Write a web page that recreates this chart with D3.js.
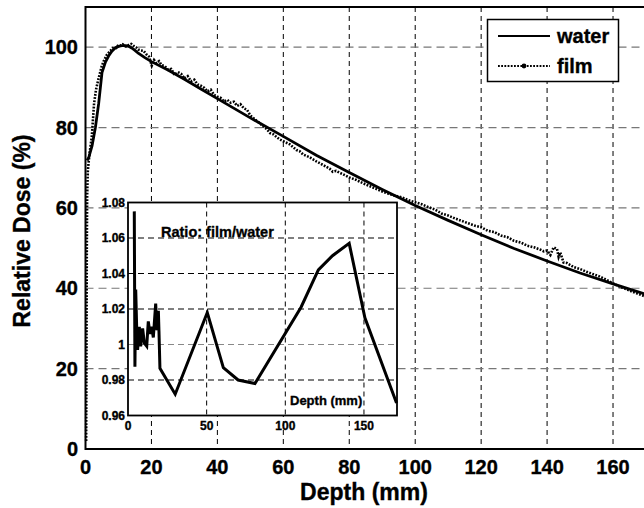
<!DOCTYPE html>
<html>
<head>
<meta charset="utf-8">
<script src="https://cdn.jsdelivr.net/npm/d3@7"></script>
<style>
  html, body { margin: 0; padding: 0; background: #fff; }
  svg { display: block; }
  text { font-family: "Liberation Sans", Arial, sans-serif; font-weight: bold; fill: #000; stroke: #000; stroke-width: 0.35px; }
</style>
</head>
<body>
<svg id="chart" width="644" height="508"></svg>
<script>
// ---------- DATA ----------
const waterDepth = [0.5, 1, 2, 3, 4, 5, 6, 7, 8, 9, 10, 11, 12, 13, 14, 15, 16, 18, 20, 25, 30, 35, 40, 50, 60, 70, 80, 90, 100, 110, 120, 130, 140, 150, 160, 170];
const waterDose  = [71.8, 72.6, 75.5, 80, 86, 93.7, 96.2, 97.8, 99, 99.8, 100.2, 100.4, 100.4, 100.3, 99.8, 99.2, 98.5, 97.4, 96.4, 94.3, 92.0, 89.6, 87.2, 82.4, 77.8, 73.1, 68.8, 64.6, 60.6, 56.9, 53.3, 49.9, 46.8, 43.8, 41.1, 38.5];

const filmDepth = [0.2, 0.3, 0.4, 0.5, 0.7, 0.9, 1.3, 1.9, 2.6, 3.2, 3.9, 4.9, 5.5, 6.4, 7.2, 7.9, 8.6, 9.3, 10, 10.6, 11.3, 12, 12.6, 13.2, 13.9, 14.6, 15.3, 16, 16.8, 17.6, 18.6, 19.3, 20.1, 20.8, 21.5, 22.3, 23, 24, 25, 26, 27, 28, 29, 30, 31, 32, 33, 34, 35, 36, 37, 38, 39, 40, 41, 42, 43, 44, 45, 46, 47, 48, 49, 50, 51, 52, 53, 54, 55, 56, 57, 58, 59, 60, 62, 64, 65, 66, 68, 70, 72, 74, 75, 76, 78, 80, 82, 84, 86, 88, 90, 92, 94, 96, 98, 100, 102, 104, 106, 108, 110, 112, 114, 116, 118, 120, 122, 124, 126, 128, 130, 132, 134, 136, 138, 139, 140, 141, 142, 143, 143.5, 144, 145, 146, 148, 150, 152, 154, 156, 158, 160, 162, 164, 166, 168, 170];
const filmDose  = [2, 25, 50, 63, 69, 71, 74, 77.7, 86, 89.5, 92, 95.2, 96.5, 98, 98.8, 99.4, 100, 99.8, 100.6, 100.4, 100.7, 100.3, 100.1, 100.6, 100.8, 100.3, 100.0, 99.4, 99.2, 99.1, 98.1, 97.6, 95.4, 96.8, 96.0, 96.5, 95.6, 95.3, 94.4, 94.6, 93.1, 93.8, 93.4, 92.2, 92.8, 91.5, 91.9, 90.7, 90.4, 89.9, 89.0, 89.4, 88.1, 87.7, 87.4, 86.5, 86.9, 86.2, 86.4, 85.4, 85.8, 84.8, 84.4, 83.0, 82.3, 81.6, 81.0, 80.2, 79.6, 78.6, 78.3, 77.6, 77.0, 76.6, 75.8, 74.4, 74.1, 73.3, 72.6, 71.6, 70.7, 69.8, 69.0, 69.2, 68.4, 67.6, 67.0, 66.2, 65.5, 64.8, 64.1, 63.5, 63.0, 62.6, 61.9, 61.4, 60.9, 60.2, 59.6, 58.6, 58.1, 57.4, 56.8, 56.2, 55.6, 55.2, 54.3, 54.0, 53.1, 52.7, 51.8, 51.4, 50.6, 50.2, 49.6, 49.2, 49.4, 48.3, 50.2, 49.8, 47.8, 48.9, 46.4, 46.3, 45.3, 44.8, 44.1, 43.5, 42.9, 42.1, 41.2, 40.4, 39.8, 39.1, 38.5, 37.9];

const ratioDepth = [4.0, 4.4, 4.9, 5.5, 6.1, 7.2, 8.05, 9.3, 10.4, 11.9, 12.9, 14.0, 15.0, 16.1, 17.6, 18.4, 19.3, 19.7, 20.3, 30, 50.4, 60.6, 70, 80.7, 110, 121, 130, 140.6, 150.6, 170.7];
const ratioValue = [1.075, 0.9875, 1.031, 1.010, 0.997, 1.010, 0.999, 1.009, 1.0007, 0.999, 1.013, 1.006, 1.010, 1.004, 1.023, 1.008, 1.019, 1.007, 0.9866, 0.972, 1.018, 0.987, 0.980, 0.978, 1.021, 1.042, 1.050, 1.057, 1.015, 0.967];

const xTicks = [0, 20, 40, 60, 80, 100, 120, 140, 160];
const yTicks = [0, 20, 40, 60, 80, 100];
const insetXTicks = [0, 50, 100, 150];
const insetYTicks = [0.96, 0.98, 1.00, 1.02, 1.04, 1.06, 1.08];
const seriesNames = ["water", "film"];

// ---------- LAYOUT ----------
const svg = d3.select("#chart");
const x = d3.scaleLinear().domain([0, 170]).range([85.5, 646]);
const y = d3.scaleLinear().domain([0, 110]).range([449, 7]);

const g = svg.append("g");

// gridlines
g.selectAll(".vgrid").data(xTicks.filter(d => d > 0)).enter().append("line")
  .attr("x1", d => x(d)).attr("x2", d => x(d))
  .attr("y1", y(110)).attr("y2", y(0))
  .attr("stroke", "#000").attr("stroke-width", 1).attr("stroke-dasharray", "5,4");
g.selectAll(".hgrid").data(yTicks.filter(d => d > 0)).enter().append("line")
  .attr("x1", x(0)).attr("x2", x(170))
  .attr("y1", d => y(d)).attr("y2", d => y(d))
  .attr("stroke", "#777").attr("stroke-width", 1.2).attr("stroke-dasharray", "8,5");

// lines
const waterPts = waterDepth.map((d, i) => [d, waterDose[i]]);
const filmPts = filmDepth.map((d, i) => [d, filmDose[i]]);
const line = d3.line().x(d => x(d[0])).y(d => y(d[1]));

g.append("path").attr("d", line(filmPts))
  .attr("fill", "none").attr("stroke", "#000").attr("stroke-width", 2.6)
  .attr("stroke-dasharray", "1.8,1.4");
g.append("path").attr("d", line(waterPts))
  .attr("fill", "none").attr("stroke", "#000").attr("stroke-width", 2.8);

// frame
g.append("path")
  .attr("d", `M${x(170)},${y(110)} H${x(0)} V${y(0)} H${x(170)}`)
  .attr("fill", "none").attr("stroke", "#000").attr("stroke-width", 2);

// axes labels
g.selectAll(".xt").data(xTicks).enter().append("text")
  .attr("x", d => x(d)).attr("y", 474)
  .attr("text-anchor", "middle").attr("font-size", 20).text(d => d);
g.selectAll(".yt").data(yTicks).enter().append("text")
  .attr("x", 78).attr("y", d => y(d) + 7)
  .attr("text-anchor", "end").attr("font-size", 20).text(d => d);

svg.append("text").attr("x", 364).attr("y", 500)
  .attr("text-anchor", "middle").attr("font-size", 23).text("Depth (mm)");
svg.append("text").attr("transform", "translate(30,231) rotate(-90)")
  .attr("text-anchor", "middle").attr("font-size", 23).text("Relative Dose (%)");

// legend
const leg = svg.append("g");
leg.append("rect").attr("x", 487.5).attr("y", 19.5).attr("width", 131).attr("height", 62)
  .attr("fill", "#fff").attr("stroke", "#000").attr("stroke-width", 1.5);
leg.append("line").attr("x1", 498).attr("x2", 550).attr("y1", 36).attr("y2", 36)
  .attr("stroke", "#000").attr("stroke-width", 2.2);
leg.append("line").attr("x1", 498).attr("x2", 550).attr("y1", 66).attr("y2", 66)
  .attr("stroke", "#000").attr("stroke-width", 2.2).attr("stroke-dasharray", "1.8,1.4");
leg.append("circle").attr("cx", 524).attr("cy", 66).attr("r", 2.4).attr("fill", "#000");
leg.selectAll(".lt").data(seriesNames).enter().append("text")
  .attr("x", 557).attr("y", (d, i) => 43 + i * 30)
  .attr("font-size", 20).text(d => d);

// ---------- INSET ----------
const ix = d3.scaleLinear().domain([0, 171]).range([128, 397]);
const iy = d3.scaleLinear().domain([0.96, 1.08]).range([415.5, 202.5]);
const ins = svg.append("g");
ins.append("rect").attr("x", ix(0)).attr("y", iy(1.08))
  .attr("width", ix(171) - ix(0)).attr("height", iy(0.96) - iy(1.08))
  .attr("fill", "#fff");
ins.selectAll(".ivg").data(insetXTicks.filter(d => d > 0)).enter().append("line")
  .attr("x1", d => ix(d)).attr("x2", d => ix(d))
  .attr("y1", iy(1.08)).attr("y2", iy(0.96))
  .attr("stroke", "#000").attr("stroke-width", 1).attr("stroke-dasharray", "5,4");
ins.selectAll(".ihg").data(insetYTicks.filter(d => d > 0.961 && d < 1.079)).enter().append("line")
  .attr("x1", ix(0)).attr("x2", ix(171))
  .attr("y1", d => iy(d)).attr("y2", d => iy(d))
  .attr("stroke", d => Math.abs(d - 1) < 1e-6 ? "#888" : "#000")
  .attr("stroke-width", 1.2).attr("stroke-dasharray", "6,4");

const ratioPts = ratioDepth.map((d, i) => [d, ratioValue[i]]);
ins.append("path")
  .attr("d", d3.line().x(d => ix(d[0])).y(d => iy(d[1]))(ratioPts))
  .attr("fill", "none").attr("stroke", "#000").attr("stroke-width", 3)
  .attr("stroke-linejoin", "miter");

ins.append("rect").attr("x", ix(0)).attr("y", iy(1.08))
  .attr("width", ix(171) - ix(0)).attr("height", iy(0.96) - iy(1.08))
  .attr("fill", "none").attr("stroke", "#000").attr("stroke-width", 1.8);

ins.selectAll(".ixt").data(insetXTicks).enter().append("text")
  .attr("x", d => ix(d)).attr("y", 430)
  .attr("text-anchor", "middle").attr("font-size", 12).text(d => d);
ins.selectAll(".iyt").data(insetYTicks).enter().append("text")
  .attr("x", 125).attr("y", d => iy(d) + 4)
  .attr("text-anchor", "end").attr("font-size", 12)
  .text(d => Math.abs(d - 1) < 1e-6 ? "1" : d3.format(".2f")(d));

ins.append("text").attr("x", 161).attr("y", 237)
  .attr("font-size", 14.5).text("Ratio: film/water");
ins.append("text").attr("x", 290).attr("y", 405)
  .attr("font-size", 13).text("Depth (mm)");
</script>
</body>
</html>
